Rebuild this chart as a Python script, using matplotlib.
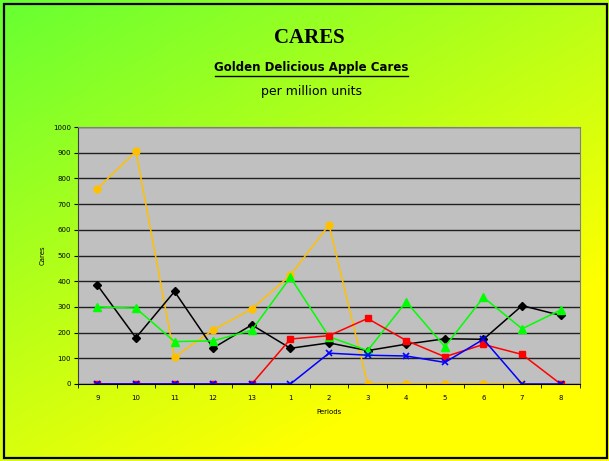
import matplotlib
matplotlib.use("Agg")
import matplotlib.pyplot as plt
import numpy as np
from matplotlib.patches import Rectangle
from matplotlib.lines import Line2D

# Data
periods = ['9', '10', '11', '12', '13', '1', '2', '3', '4', '5', '6', '7', '8']
gold = [760, 905, 105, 210, 292, 423, 619, 0, 0, 0, 0, 0, 0]
black = [385, 180, 360, 140, 230, 139, 160, 130, 155, 176, 174, 305, 267]
green = [300, 295, 165, 168, 209, 415, 184, 130, 320, 145, 337, 215, 288]
red = [0, 0, 0, 0, 0, 175, 188, 255, 169, 106, 154, 115, 0]
blue = [0, 0, 0, 0, 0, 0, 120, 112, 109, 84, 174, 0, 0]

fig = plt.figure(figsize=(6.09, 4.61), dpi=100)

# gradient background, green top-left to yellow bottom-right
bg = fig.add_axes([0, 0, 1, 1], zorder=-10)
bg.axis('off')
yy, xx = np.mgrid[0:1:200j, 0:1:200j]
t = np.clip((xx * 0.55 + yy * 0.75) / 1.0, 0, 1)
c0 = np.array([102, 255, 51]) / 255.0
c1 = np.array([255, 255, 0]) / 255.0
img = c0[None, None, :] * (1 - t[..., None]) + c1[None, None, :] * t[..., None]
bg.imshow(img, extent=[0, 1, 0, 1], aspect='auto', origin='upper')
bg.set_xlim(0, 1); bg.set_ylim(0, 1)
fig.patches.append(Rectangle((4/609, 3/461), 603/609, 454/461, transform=fig.transFigure,
                             fill=False, edgecolor='black', linewidth=1.6, zorder=5))

# titles
fig.text(0.508, 0.918, 'CARES', ha='center', va='center', fontsize=15,
         fontweight='bold', family='Liberation Serif')
fig.text(0.511, 1 - 67/461, 'Golden Delicious Apple Cares', ha='center', va='center',
         fontsize=8.5, fontweight='bold')
fig.add_artist(Line2D([215/609, 408/609], [1 - 76/461, 1 - 76/461], color='black',
                      linewidth=1.0, transform=fig.transFigure))
fig.text(0.511, 1 - 91/461, 'per million units', ha='center', va='center', fontsize=9)

ax = fig.add_axes([78/609, 1 - 384/461, 502/609, 257/461])
ax.set_facecolor('#c0c0c0')
x = np.arange(len(periods))

ax.plot(x, gold, color='#ffc000', marker='o', markersize=5, linewidth=1.1)
ax.plot(x, black, color='black', marker='D', markersize=4, linewidth=1.1)
ax.plot(x, green, color='#00ff00', marker='^', markersize=5.5, linewidth=1.1)
ax.plot(x, red, color='red', marker='s', markersize=5, linewidth=1.1)
ax.plot(x, blue, color='blue', marker='x', markersize=5, markeredgewidth=1.2, linewidth=1.1)

ax.set_xlim(-0.5, len(periods) - 0.5)
ax.set_ylim(0, 1000)
ax.set_yticks(range(0, 1001, 100))
ax.set_xticks(x)
ax.set_xticklabels(periods)
ax.set_xticks(np.arange(-0.5, len(periods), 1), minor=True)
ax.tick_params(axis='x', which='major', length=0, labelsize=5, pad=8)
ax.tick_params(axis='x', which='minor', length=3, direction='out')
ax.tick_params(axis='y', labelsize=5, length=3, direction='out', pad=2)
ax.yaxis.grid(True, color='#202020', linewidth=1.0)
ax.set_axisbelow(True)
for s in ['top', 'right']:
    ax.spines[s].set_color('#808080')
ax.spines['left'].set_color('#404040')
ax.spines['bottom'].set_color('black')
ax.set_xlabel('Periods', fontsize=5, labelpad=6)
ax.set_ylabel('Cares', fontsize=5, labelpad=5)

fig.savefig('out.png', dpi=100)
